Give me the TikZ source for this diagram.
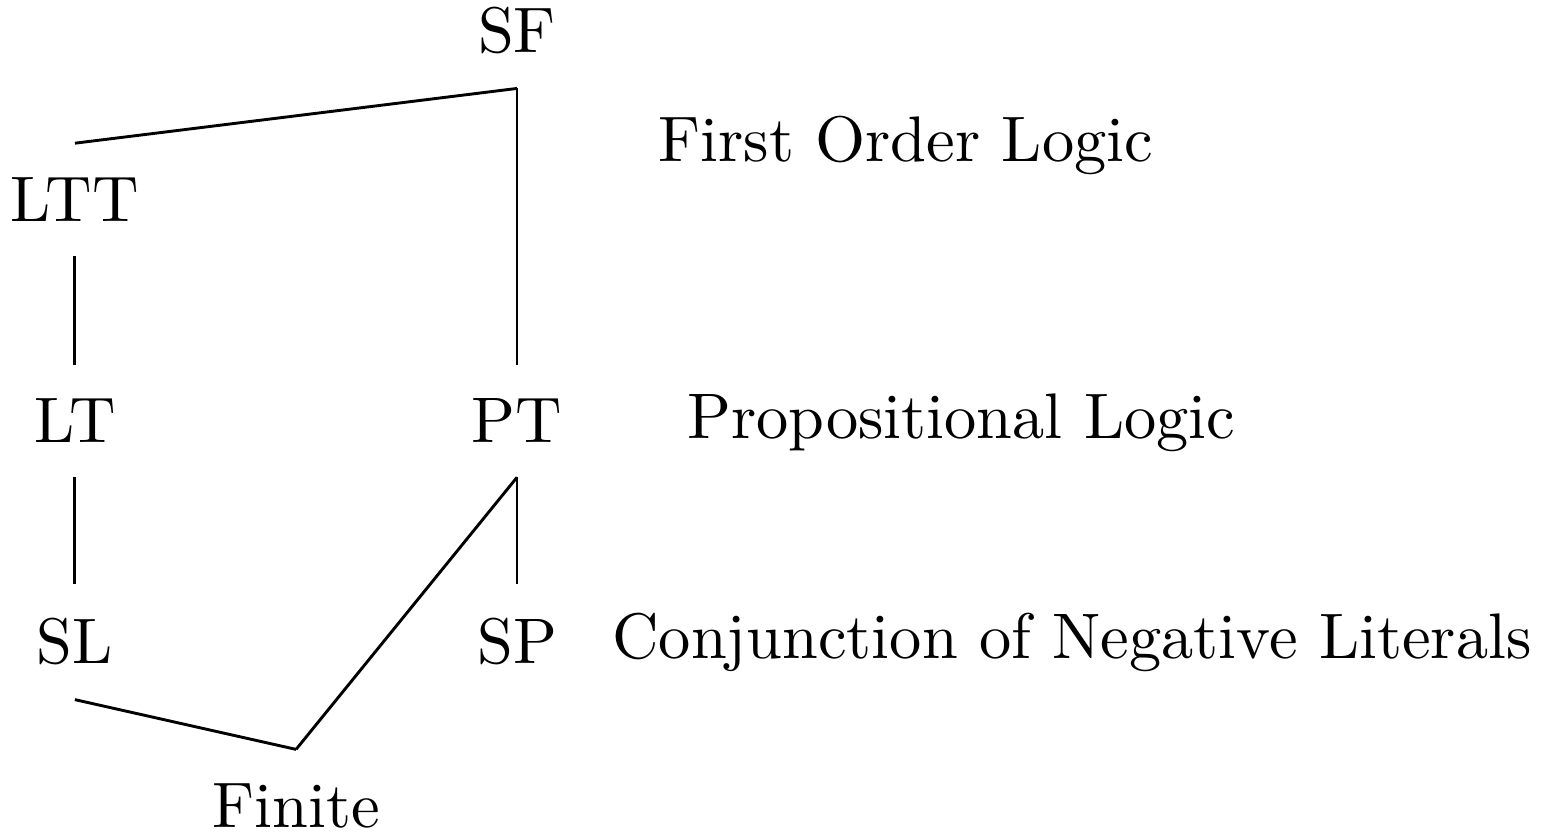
\documentclass[tikz,border=0pt]{standalone}
\usepackage{tikz}

\tikzset{
	cls/.style={inner sep=5.1pt},
	logic/.style={anchor=base west, inner sep=0pt}
}

\begin{document}
\begin{tikzpicture}[scale = 1.0, line width=0.45pt, line join=miter]
			\useasboundingbox (0,0) rectangle (8.422,4.563);
			% classes
			\node[cls] (SF) at (2.822,4.395) {SF};
			\node[cls] (LTT) at (0.409,3.474) {LTT};
			\node[cls] (LT) at (0.409,2.265) {LT};
			\node[cls] (PT) at (2.822,2.265) {PT};
			\node[cls] (SL) at (0.409,1.059) {SL};
			\node[cls] (SP) at (2.822,1.059) {SP};
			\node[cls] (Finite) at (1.616,0.164) {Finite};
			% inclusions
			\draw (SF.south) -- (LTT.north);
			\draw (SF.south) -- (PT.north);
			\draw (LTT.south) -- (LT.north);
			\draw (LT.south) -- (SL.north);
			\draw (PT.south) -- (SP.north);
			\draw (PT.south) -- (Finite.north);
			\draw (SL.south) -- (Finite.north);
			% logics
			\node[logic] (fol) at (3.586,3.679) {First Order Logic};
			\node[logic] (pl) at (3.744,2.167) {Propositional Logic};
			\node[logic] (cnl) at (3.335,0.966) {Conjunction of Negative Literals};
		\end{tikzpicture}
\end{document}
